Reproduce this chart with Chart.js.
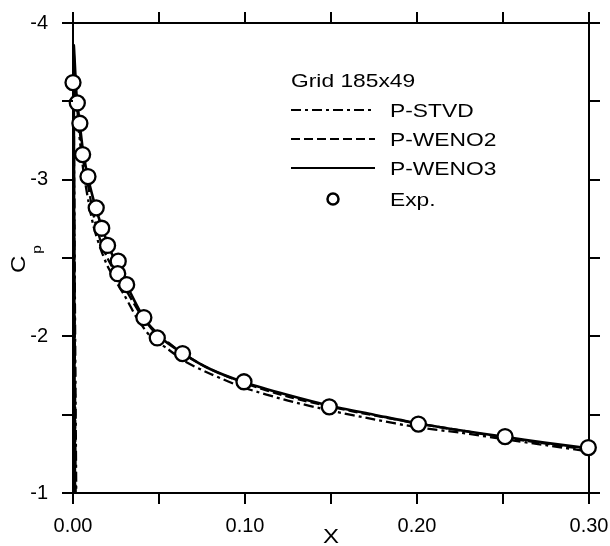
<!DOCTYPE html>
<html>
<head>
<meta charset="utf-8">
<script src="https://cdn.jsdelivr.net/npm/chart.js@4"></script>
<style>
  html, body { margin: 0; padding: 0; background: #fff; }
  #wrap { width: 610px; height: 546px; position: relative; }
</style>
</head>
<body>
<div id="wrap"><canvas id="cpChart"></canvas></div>
<script>
// Cp distribution near leading edge, grid 185x49
const xExp  = [0.0, 0.0025, 0.004, 0.0056, 0.0087, 0.0135, 0.0167, 0.0201, 0.0263, 0.026, 0.0312, 0.0412, 0.049, 0.0637, 0.0994, 0.149, 0.2008, 0.2512, 0.2996];
const cpExp = [-3.62, -3.49, -3.36, -3.16, -3.02, -2.82, -2.69, -2.58, -2.48, -2.40, -2.33, -2.12, -1.99, -1.89, -1.71, -1.55, -1.44, -1.36, -1.29];

const xWeno3  = [0.0015, 0.0004, 0.002, 0.004, 0.006, 0.009, 0.013, 0.017, 0.021, 0.026, 0.031, 0.041, 0.05, 0.064, 0.08, 0.1, 0.125, 0.15, 0.175, 0.2, 0.225, 0.25, 0.275, 0.3];
const cpWeno3 = [0.0, -3.85, -3.55, -3.35, -3.17, -3.0, -2.83, -2.69, -2.57, -2.44, -2.33, -2.12, -2.0, -1.89, -1.79, -1.705, -1.625, -1.555, -1.5, -1.445, -1.4, -1.36, -1.32, -1.285];

const xWeno2  = [0.002, 0.0004, 0.002, 0.004, 0.006, 0.009, 0.012, 0.016, 0.02, 0.025, 0.03, 0.04, 0.05, 0.064, 0.08, 0.1, 0.125, 0.15, 0.175, 0.2, 0.225, 0.25, 0.275, 0.3];
const cpWeno2 = [0.0, -3.8, -3.5, -3.3, -3.12, -2.95, -2.77, -2.61, -2.5, -2.4, -2.31, -2.13, -2.01, -1.89, -1.79, -1.70, -1.615, -1.55, -1.495, -1.445, -1.40, -1.355, -1.315, -1.275];

const xStvd  = [0.0025, 0.0004, 0.002, 0.004, 0.006, 0.009, 0.012, 0.016, 0.02, 0.025, 0.03, 0.037, 0.045, 0.055, 0.065, 0.08, 0.1, 0.125, 0.15, 0.175, 0.2, 0.225, 0.25, 0.275, 0.3];
const cpStvd = [0.0, -3.75, -3.45, -3.25, -3.06, -2.86, -2.7, -2.56, -2.45, -2.35, -2.26, -2.12, -2.0, -1.92, -1.84, -1.76, -1.67, -1.59, -1.525, -1.47, -1.42, -1.385, -1.345, -1.305, -1.265];

const legendTitle = 'Grid 185x49';
const seriesNames = ['P-STVD', 'P-WENO2', 'P-WENO3', 'Exp.'];

const pts = (xs, ys) => xs.map((x, i) => ({ x: x, y: ys[i] }));
const FONT = '"Liberation Sans", Arial, sans-serif';
const STRETCH = 1.2;
const TICK_LEN = 11;

function stretchText(ctx, txt, x, y, size, align) {
    ctx.save();
    ctx.font = size + 'px ' + FONT;
    const w = ctx.measureText(txt).width * STRETCH;
    let x0 = x;
    if (align === 'center') x0 = x - w / 2;
    ctx.translate(x0, y);
    ctx.scale(STRETCH, 1);
    ctx.textAlign = 'left';
    ctx.textBaseline = 'alphabetic';
    ctx.fillText(txt, 0, 0);
    ctx.restore();
}

// outward tick marks on all four sides, placed by the scales
const tickMarks = {
    id: 'tickMarks',
    afterDraw(chart) {
        const ctx = chart.ctx;
        const a = chart.chartArea;
        ctx.save();
        ctx.strokeStyle = '#000';
        ctx.lineWidth = 2;
        ctx.beginPath();
        ['x', 'x2'].forEach(id => {
            const s = chart.scales[id];
            s.ticks.forEach(t => {
                const px = Math.round(s.getPixelForValue(t.value));
                if (id === 'x') { ctx.moveTo(px, a.bottom); ctx.lineTo(px, a.bottom + TICK_LEN); }
                else { ctx.moveTo(px, a.top); ctx.lineTo(px, a.top - TICK_LEN); }
            });
        });
        ['y', 'y2'].forEach(id => {
            const s = chart.scales[id];
            s.ticks.forEach(t => {
                const py = Math.round(s.getPixelForValue(t.value));
                if (id === 'y') { ctx.moveTo(a.left, py); ctx.lineTo(a.left - TICK_LEN, py); }
                else { ctx.moveTo(a.right, py); ctx.lineTo(a.right + TICK_LEN, py); }
            });
        });
        ctx.stroke();
        ctx.restore();
    }
};

// axis titles + in-plot legend
const decorPlugin = {
    id: 'decor',
    afterDraw(chart) {
        const ctx = chart.ctx;
        const xs = chart.scales.x;
        ctx.save();
        ctx.fillStyle = '#000';
        ctx.strokeStyle = '#000';

        // X title
        stretchText(ctx, 'X', (xs.left + xs.right) / 2, 543, 20, 'center');

        // C_p title (rotated)
        ctx.save();
        ctx.translate(25, 273);
        ctx.rotate(-Math.PI / 2);
        ctx.font = '20px ' + FONT;
        const cw = ctx.measureText('C').width * STRETCH;
        stretchText(ctx, 'C', 0, 0, 20, 'left');
        stretchText(ctx, 'p', cw + 2, 16, 13, 'left');
        ctx.restore();

        // legend
        stretchText(ctx, legendTitle, 291, 87, 19, 'left');
        const rows = [110, 139, 168];
        const dashes = [[10, 4, 3, 4], [9, 4], []];
        ctx.lineWidth = 2.2;
        rows.forEach((y, i) => {
            ctx.setLineDash(dashes[i]);
            ctx.beginPath();
            ctx.moveTo(291, y);
            ctx.lineTo(375, y);
            ctx.stroke();
            stretchText(ctx, seriesNames[i], 390, y + 7, 19, 'left');
        });
        ctx.setLineDash([]);
        ctx.lineWidth = 2.5;
        ctx.beginPath();
        ctx.arc(333, 199, 5.5, 0, Math.PI * 2);
        ctx.fillStyle = '#fff';
        ctx.fill();
        ctx.stroke();
        ctx.fillStyle = '#000';
        stretchText(ctx, seriesNames[3], 390, 206, 19, 'left');
        ctx.restore();
    }
};

const noGrid = { display: false };
const axisBorder = { display: true, color: '#000', width: 2 };
const blankTicks = (step) => ({
    stepSize: step,
    autoSkip: false,
    color: 'rgba(0,0,0,0)',
    callback: () => '',
});

function fixSize(prop, val) {
    return function (scale) {
        scale[prop] = val;
        scale.paddingLeft = 0;
        scale.paddingRight = 0;
        scale.paddingTop = 0;
        scale.paddingBottom = 0;
    };
}

const lineBase = {
    showLine: true,
    pointRadius: 0,
    borderColor: '#000',
    borderWidth: 2.3,
    fill: false,
    tension: 0.25,
    order: 1,
};

new Chart(document.getElementById('cpChart'), {
    type: 'scatter',
    data: {
        datasets: [
            {
                label: seriesNames[3],
                data: pts(xExp, cpExp),
                pointRadius: 7.5,
                pointBorderWidth: 2.3,
                pointBackgroundColor: '#fff',
                pointBorderColor: '#000',
                showLine: false,
                clip: false,
                order: 0,
            },
            Object.assign({}, lineBase, { label: seriesNames[2], data: pts(xWeno3, cpWeno3), borderWidth: 2.6 }),
            Object.assign({}, lineBase, { label: seriesNames[1], data: pts(xWeno2, cpWeno2), borderDash: [9, 4] }),
            Object.assign({}, lineBase, { label: seriesNames[0], data: pts(xStvd, cpStvd), borderDash: [10, 4, 3, 4] }),
        ]
    },
    options: {
        responsive: true,
        maintainAspectRatio: false,
        animation: false,
        layout: { padding: 0 },
        plugins: {
            legend: { display: false },
            tooltip: { enabled: false },
        },
        scales: {
            x: {
                type: 'linear',
                position: 'bottom',
                min: 0,
                max: 0.3,
                grid: noGrid,
                border: axisBorder,
                afterFit: fixSize('height', 53),
                ticks: {
                    stepSize: 0.05,
                    color: '#000',
                    padding: 13,
                    maxRotation: 0,
                    autoSkip: false,
                    font: { family: FONT, size: 20 },
                    callback: (v) => Math.abs(v * 10 - Math.round(v * 10)) < 1e-6 ? v.toFixed(2) : '',
                }
            },
            x2: {
                type: 'linear',
                position: 'top',
                min: 0,
                max: 0.3,
                grid: noGrid,
                border: axisBorder,
                afterFit: fixSize('height', 23),
                ticks: blankTicks(0.05),
            },
            y: {
                type: 'linear',
                position: 'left',
                min: -4,
                max: -1,
                reverse: true,
                grid: noGrid,
                border: axisBorder,
                afterFit: fixSize('width', 73),
                ticks: {
                    stepSize: 0.5,
                    color: '#000',
                    padding: 17,
                    autoSkip: false,
                    font: { family: FONT, size: 20 },
                    callback: (v) => Number.isInteger(v) ? String(v) : '',
                }
            },
            y2: {
                type: 'linear',
                position: 'right',
                min: -4,
                max: -1,
                reverse: true,
                grid: noGrid,
                border: axisBorder,
                afterFit: fixSize('width', 21),
                ticks: blankTicks(0.5),
            }
        }
    },
    plugins: [tickMarks, decorPlugin]
});
</script>
</body>
</html>
